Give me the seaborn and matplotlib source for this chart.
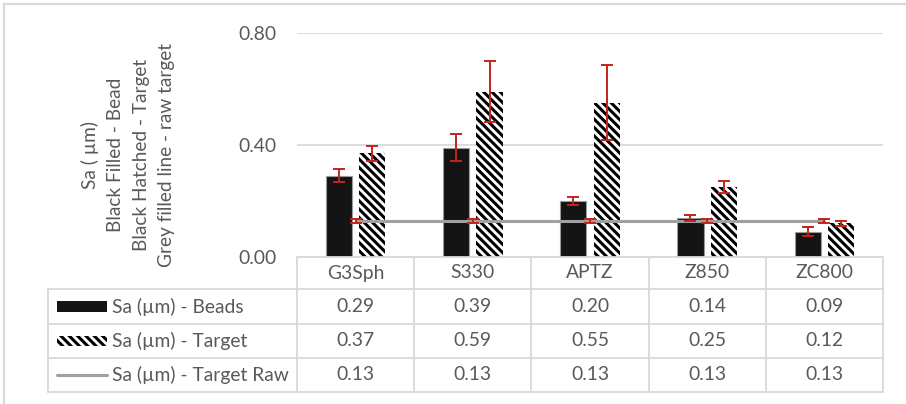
import matplotlib
matplotlib.use("Agg")
import matplotlib.pyplot as plt
from matplotlib.lines import Line2D
from matplotlib.patches import Rectangle
from matplotlib.transforms import blended_transform_factory
import numpy as np
import pandas as pd
import seaborn as sns

# ---- data ----
categories = ["G3Sph", "S330", "APTZ", "Z850", "ZC800"]
beads = [0.29, 0.39, 0.20, 0.14, 0.09]
target = [0.37, 0.59, 0.55, 0.25, 0.12]
target_raw = [0.13, 0.13, 0.13, 0.13, 0.13]
beads_err = [0.023, 0.048, 0.015, 0.010, 0.016]
target_err = [0.027, 0.108, 0.134, 0.020, 0.008]
raw_err = [0.007, 0.007, 0.007, 0.007, 0.007]
series_names = ["Sa (µm) - Beads", "Sa (µm) - Target", "Sa (µm) - Target Raw"]
y_ticks = [0.0, 0.4, 0.8]
y_label_lines = ["Sa ( µm)", "Black Filled - Bead", "Black Hatched - Target",
                 "Grey filled line - raw target"]

sns.set_style("white")
plt.rcParams["font.family"] = ["Lato", "DejaVu Sans"]
plt.rcParams["hatch.linewidth"] = 2.2

TXT = "#595959"
GRID = "#d9d9d9"
RED = "#c0251e"
GREY_LINE = "#a0a0a0"
HATCH = "\\\\\\\\"

W, H = 906, 404
def fx(px): return px / W
def fy(py): return 1 - py / H

fig = plt.figure(figsize=(W / 100, H / 100), dpi=100)
renderer = fig.canvas.get_renderer()

def fit_size(s, target_px, base=12):
    t = fig.text(0, 0, s, fontsize=base)
    w = t.get_window_extent(renderer).width
    t.remove()
    return base * target_px / w

FS = fit_size(series_names[2], 176)
FS_LBL = fit_size(y_label_lines[3], 224)

ax = fig.add_axes([fx(297), fy(257), fx(883) - fx(297), fy(32.7) - fy(257)])

df = pd.DataFrame({
    "cat": categories * 2,
    "series": [series_names[0]] * len(categories) + [series_names[1]] * len(categories),
    "value": beads + target,
})
sns.barplot(data=df, x="cat", y="value", hue="series", palette=["#141414", "white"],
            width=0.57, gap=0.22, errorbar=None, legend=False, ax=ax, zorder=2)

cont_b, cont_t = ax.containers[0], ax.containers[1]
for p in cont_b:
    p.set_edgecolor("#9a9a9a")
    p.set_linewidth(0.8)
for p in cont_t:
    p.set_hatch(HATCH)
    p.set_edgecolor("black")
    p.set_linewidth(0)

centers = list(ax.get_xticks())

# raw target line
ax.plot(centers, target_raw, color=GREY_LINE, lw=2.2, zorder=3)

def ebar(xs, vals, errs):
    ax.errorbar(xs, vals, yerr=errs, fmt="none", ecolor=RED, elinewidth=1.4,
                capsize=4.2, capthick=1.4, zorder=4)

ebar([p.get_x() + p.get_width() / 2 for p in cont_b], beads, beads_err)
ebar([p.get_x() + p.get_width() / 2 for p in cont_t], target, target_err)
ebar(centers, target_raw, raw_err)

ax.set_xlim(-0.5, len(categories) - 0.5)
ax.set_ylim(0, 0.8)
ax.set_yticks(y_ticks)
ax.set_yticklabels([f"{v:.2f}" for v in y_ticks])
ax.set_xticks([])
ax.set_xlabel("")
ax.set_ylabel("")
ax.tick_params(axis="y", length=0, pad=15, labelsize=FS, colors=TXT)
ax.yaxis.grid(True, color=GRID, lw=1.3)
ax.set_axisbelow(True)
for s in ax.spines.values():
    s.set_visible(False)

# ---- data table ----
T = blended_transform_factory(ax.transData, fig.transFigure)
tf = fig.transFigure
def line(x0, x1, y0, y1, trans, color=GRID, lw=1.3):
    fig.add_artist(Line2D([x0, x1], [y0, y1], transform=trans, color=color, lw=lw))

bounds = [c - 0.5 for c in centers] + [centers[-1] + 0.5]
line(bounds[0], bounds[-1], fy(257), fy(257), T)
for py in [289, 324, 358, 392]:
    line(fx(48), fx(883), fy(py), fy(py), tf)
for b in bounds:
    line(b, b, fy(257), fy(392), T)
line(fx(48), fx(48), fy(289), fy(392), tf)

row_y = [306.5, 341, 375]
for c, name in zip(centers, categories):
    fig.text(c, fy(273), name, transform=T, ha="center", va="center", fontsize=FS, color=TXT)
for ry, vals in zip(row_y, [beads, target, target_raw]):
    for c, v in zip(centers, vals):
        fig.text(c, fy(ry), f"{v:.2f}", transform=T, ha="center", va="center", fontsize=FS, color=TXT)
for ry, name in zip(row_y, series_names):
    fig.text(fx(112), fy(ry), name, ha="left", va="center", fontsize=FS, color=TXT)

# legend keys
fig.add_artist(Rectangle((fx(57), fy(row_y[0] + 5.5)), fx(107) - fx(57), 11 / H,
                         transform=tf, facecolor="#141414", edgecolor="none"))
fig.add_artist(Rectangle((fx(57), fy(row_y[1] + 5)), fx(107) - fx(57), 10 / H,
                         transform=tf, facecolor="white", edgecolor="black", lw=0, hatch=HATCH))
fig.add_artist(Line2D([fx(57), fx(107)], [fy(row_y[2]), fy(row_y[2])], transform=tf,
                      color=GREY_LINE, lw=2.2))

# y label (one line per text, 25.5 px apart)
lbl_x = [90, 115.5, 141, 166.5]
for px, s in zip(lbl_x, y_label_lines):
    fig.text(fx(px), fy(155), s, rotation=90, ha="center", va="center",
             fontsize=FS_LBL, color=TXT)

# chart border (top and left visible)
line(fx(4), 1, fy(4), fy(4), tf, lw=1.5)
line(fx(4), fx(4), fy(4), 0, tf, lw=1.5)

fig.savefig("out.png", dpi=100)
